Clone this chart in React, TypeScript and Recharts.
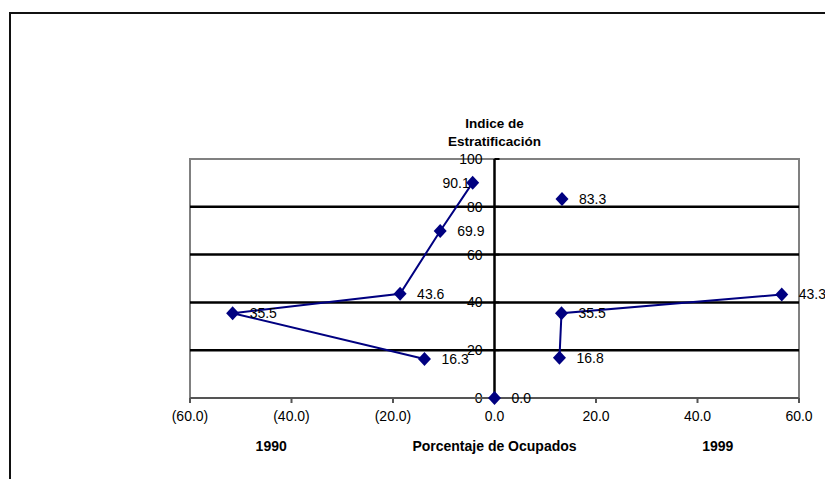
import {
  ReferenceArea,
  ReferenceLine,
  Scatter,
  ScatterChart,
  XAxis,
  YAxis,
} from 'recharts'

// porcentaje de ocupados (x) e indice de estratificacion (y) por estrato
const pct1990 = [-4.3, -10.7, -18.6, -51.6, -13.8]
const idx1990 = [90.1, 69.9, 43.6, 35.5, 16.3]
const pct1999Top = [13.3]
const idx1999Top = [83.3]
const pct1999 = [56.6, 13.2, 12.8]
const idx1999 = [43.3, 35.5, 16.8]
const pctOrigin = [0]
const idxOrigin = [0]

const xTicks = [-60, -40, -20, 0, 20, 40, 60]
const yTicks = [0, 20, 40, 60, 80, 100]
const gridValues = [20, 40, 60, 80]
const X_DOMAIN: [number, number] = [-60, 60]

const NAVY = '#000080'
const FONT = '"Liberation Sans", Arial, sans-serif'

const toPoints = (xs: number[], ys: number[]) =>
  xs.map((x, i) => ({ x, y: ys[i] }))

const series1990 = toPoints(pct1990, idx1990)
const series1999Top = toPoints(pct1999Top, idx1999Top)
const series1999 = toPoints(pct1999, idx1999)
const originPoint = toPoints(pctOrigin, idxOrigin)

const fmtX = (v: number) =>
  v < 0 ? `(${Math.abs(v).toFixed(1)})` : v.toFixed(1)

// diamond marker with its value label beside it
const makeMarker = (leftIndex = -1) => (props: any) => {
  const { cx, cy, payload, index } = props
  if (cx == null || cy == null) return null
  const left = index === leftIndex
  return (
    <g>
      <polygon
        points={`${cx},${cy - 7} ${cx + 6.5},${cy} ${cx},${cy + 7} ${cx - 6.5},${cy}`}
        fill={NAVY}
      />
      <text
        x={left ? cx - 3 : cx + 17}
        y={cy}
        dy='0.35em'
        textAnchor={left ? 'end' : 'start'}
        fontSize={14}
        fontFamily={FONT}
        fill='#000'
      >
        {payload.y.toFixed(1)}
      </text>
    </g>
  )
}

// y tick label drawn against the vertical axis at x = 0
const yTickLabel = (value: number) => (props: any) => {
  const { viewBox } = props
  const x0 =
    viewBox.x +
    (viewBox.width * (0 - X_DOMAIN[0])) / (X_DOMAIN[1] - X_DOMAIN[0])
  return (
    <g>
      <line x1={x0} x2={x0 + 5} y1={viewBox.y} y2={viewBox.y} stroke='#000' strokeWidth={2} />
      <text
        x={x0 - 12}
        y={viewBox.y}
        dy='0.35em'
        textAnchor='end'
        fontSize={14}
        fontFamily={FONT}
        fill='#000'
      >
        {value}
      </text>
    </g>
  )
}

const yTitle = (props: any) => {
  const { viewBox } = props
  return (
    <text
      x={viewBox.x}
      y={viewBox.y}
      textAnchor='middle'
      fontSize={13.5}
      fontWeight='bold'
      fontFamily={FONT}
      fill='#000'
    >
      <tspan x={viewBox.x} dy={-31}>
        Indice de
      </tspan>
      <tspan x={viewBox.x} dy={18}>
        Estratificación
      </tspan>
    </text>
  )
}

const xTitles = (props: any) => {
  const { viewBox } = props
  const at = (v: number) =>
    viewBox.x + (viewBox.width * (v - X_DOMAIN[0])) / (X_DOMAIN[1] - X_DOMAIN[0])
  const y = viewBox.y + 53
  const common = {
    y,
    textAnchor: 'middle' as const,
    fontSize: 14,
    fontWeight: 'bold',
    fontFamily: FONT,
    fill: '#000',
  }
  return (
    <g>
      <text x={at(-44)} {...common}>
        1990
      </text>
      <text x={at(0)} {...common}>
        Porcentaje de Ocupados
      </text>
      <text x={at(44)} {...common}>
        1999
      </text>
    </g>
  )
}

export default function App() {
  return (
    <div
      style={{
        position: 'fixed',
        left: 0,
        top: 0,
        width: 825,
        height: 479,
        background: '#fff',
        overflow: 'hidden',
      }}
    >
      <div
        style={{
          position: 'absolute',
          left: 9,
          top: 12,
          width: 900,
          height: 600,
          border: '2px solid #111',
        }}
      />
      <div style={{ position: 'absolute', left: 0, top: 0 }}>
        <ScatterChart
          width={825}
          height={479}
          margin={{ top: 159, right: 26, bottom: 51, left: 190 }}
        >
          <XAxis
            type='number'
            dataKey='x'
            domain={X_DOMAIN}
            ticks={xTicks}
            tickFormatter={fmtX}
            tick={{ fill: '#000', fontSize: 14, fontFamily: FONT }}
            tickSize={5}
            tickMargin={8}
            stroke='#555'
            strokeWidth={2}
            height={30}
            label={{ content: xTitles }}
          />
          <YAxis type='number' dataKey='y' domain={[0, 100]} ticks={yTicks} hide />
          <ReferenceArea
            x1={-60}
            x2={60}
            y1={0}
            y2={100}
            fill='none'
            fillOpacity={0}
            stroke='#808080'
            strokeWidth={2}
          />
          {gridValues.map((v) => (
            <ReferenceLine key={`g${v}`} y={v} stroke='#000' strokeWidth={2.5} />
          ))}
          {yTicks.map((v) => (
            <ReferenceLine
              key={`t${v}`}
              y={v}
              stroke='none'
              label={{ content: yTickLabel(v) }}
            />
          ))}
          <ReferenceLine
            x={0}
            stroke='#000'
            strokeWidth={2.5}
            label={{ content: yTitle }}
          />
          <Scatter
            data={series1990}
            fill={NAVY}
            line={{ stroke: NAVY, strokeWidth: 2 }}
            lineType='joint'
            shape={makeMarker(0)}
            isAnimationActive={false}
          />
          <Scatter
            data={series1999}
            fill={NAVY}
            line={{ stroke: NAVY, strokeWidth: 2 }}
            lineType='joint'
            shape={makeMarker()}
            isAnimationActive={false}
          />
          <Scatter
            data={series1999Top}
            fill={NAVY}
            shape={makeMarker()}
            isAnimationActive={false}
          />
          <Scatter
            data={originPoint}
            fill={NAVY}
            shape={makeMarker()}
            isAnimationActive={false}
          />
        </ScatterChart>
      </div>
    </div>
  )
}
